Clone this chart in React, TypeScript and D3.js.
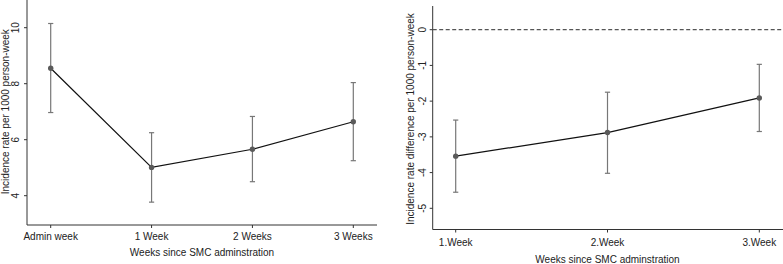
import React from "react";
import * as d3 from "d3";

// Panel A: incidence rate per 1000 person-week
const rateWeeks = ["Admin week", "1 Week", "2 Weeks", "3 Weeks"];
const rateEst = [8.55, 5.01, 5.66, 6.64];
const rateLo = [6.97, 3.77, 4.5, 5.25];
const rateHi = [10.15, 6.25, 6.83, 8.04];
const rateTicks = [4, 6, 8, 10];

// Panel B: incidence rate difference per 1000 person-week
const diffWeeks = ["1.Week", "2.Week", "3.Week"];
const diffEst = [-3.54, -2.88, -1.91];
const diffLo = [-4.55, -4.02, -2.85];
const diffHi = [-2.53, -1.75, -0.97];
const diffTicks = [0, -1, -2, -3, -4, -5];

const FONT = "'Liberation Sans', Arial, sans-serif";
const AXIS = "#333";
const BAR = "#777";
const MARK = "#5a5a5a";

type PanelProps = {
  cats: string[];
  est: number[];
  lo: number[];
  hi: number[];
  ticks: number[];
  x: d3.ScalePoint<string>;
  y: d3.ScaleLinear<number, number>;
  left: number;
  right: number;
  top: number;
  bottom: number;
  yTitle: string;
  yTitleX: number;
  yTickX: number;
  xTickY: number;
  xTitleY: number;
  refLine?: number;
};

function Panel(p: PanelProps) {
  const line = d3
    .line<number>()
    .x((_, i) => p.x(p.cats[i]) as number)
    .y((d) => p.y(d));
  const xTitleX = (p.x(p.cats[0])! + p.x(p.cats[p.cats.length - 1])!) / 2;
  const yMid = (p.y(p.ticks[0]) + p.y(p.ticks[p.ticks.length - 1])) / 2;
  return (
    <g fontFamily={FONT}>
      {/* axes */}
      <line x1={p.left} x2={p.left} y1={p.top} y2={p.bottom} stroke={AXIS} strokeWidth={1} />
      <line x1={p.left} x2={p.right} y1={p.bottom} y2={p.bottom} stroke={AXIS} strokeWidth={1} />
      {p.ticks.map((t) => (
        <g key={t}>
          <line x1={p.left - 3} x2={p.left} y1={p.y(t)} y2={p.y(t)} stroke={AXIS} />
          <text
            transform={`translate(${p.yTickX},${p.y(t)}) rotate(-90)`}
            textAnchor="middle"
            dy="0.35em"
            fontSize={10}
            fill="#222"
          >
            {t}
          </text>
        </g>
      ))}
      {p.cats.map((c) => (
        <g key={c}>
          <line x1={p.x(c)} x2={p.x(c)} y1={p.bottom} y2={p.bottom + 3} stroke={AXIS} />
          <text x={p.x(c)} y={p.xTickY} textAnchor="middle" dy="0.35em" fontSize={10} fill="#222">
            {c}
          </text>
        </g>
      ))}
      <text
        transform={`translate(${p.yTitleX},${yMid}) rotate(-90)`}
        textAnchor="middle"
        dy="0.35em"
        fontSize={10}
        fill="#222"
      >
        {p.yTitle}
      </text>
      <text x={xTitleX} y={p.xTitleY} textAnchor="middle" dy="0.35em" fontSize={10} fill="#222">
        Weeks since SMC adminstration
      </text>
      {p.refLine !== undefined && (
        <line
          x1={p.left}
          x2={p.right}
          y1={p.y(p.refLine)}
          y2={p.y(p.refLine)}
          stroke="#555"
          strokeWidth={1.2}
          strokeDasharray="4,2.5"
        />
      )}
      {/* confidence intervals */}
      {p.cats.map((c, i) => {
        const cx = p.x(c) as number;
        return (
          <g key={c} stroke={BAR} strokeWidth={1.2}>
            <line x1={cx} x2={cx} y1={p.y(p.lo[i])} y2={p.y(p.hi[i])} />
            <line x1={cx - 2.6} x2={cx + 2.6} y1={p.y(p.lo[i])} y2={p.y(p.lo[i])} />
            <line x1={cx - 2.6} x2={cx + 2.6} y1={p.y(p.hi[i])} y2={p.y(p.hi[i])} />
          </g>
        );
      })}
      <path d={line(p.est) ?? ""} fill="none" stroke="#111" strokeWidth={1.2} />
      {p.est.map((v, i) => (
        <circle key={i} cx={p.x(p.cats[i])} cy={p.y(v)} r={2.7} fill={MARK} />
      ))}
    </g>
  );
}

export default function App() {
  const W = 783;
  const H = 264;

  const xA = d3.scalePoint<string>().domain(rateWeeks).range([50.7, 353.3]);
  const yA = d3.scaleLinear().domain([4, 10]).range([195.7, 27.7]);

  const xB = d3.scalePoint<string>().domain(diffWeeks).range([455.7, 759.3]);
  const yB = d3.scaleLinear().domain([0, -5]).range([29.7, 208.3]);

  return (
    <svg
      width={W}
      height={H}
      style={{ position: "absolute", left: 0, top: 0, background: "#fff" }}
    >
      <rect width={W} height={H} fill="#fff" />
      <Panel
        cats={rateWeeks}
        est={rateEst}
        lo={rateLo}
        hi={rateHi}
        ticks={rateTicks}
        x={xA}
        y={yA}
        left={27}
        right={377}
        top={0}
        bottom={225}
        yTitle="Incidence rate per 1000 person-week"
        yTitleX={5}
        yTickX={15}
        xTickY={236}
        xTitleY={252.7}
      />
      <Panel
        cats={diffWeeks}
        est={diffEst}
        lo={diffLo}
        hi={diffHi}
        ticks={diffTicks}
        x={xB}
        y={yB}
        left={432.7}
        right={783}
        top={6}
        bottom={229.5}
        yTitle="Incidence rate difference per 1000 person-week"
        yTitleX={410}
        yTickX={422}
        xTickY={242.3}
        xTitleY={259}
        refLine={0}
      />
    </svg>
  );
}
